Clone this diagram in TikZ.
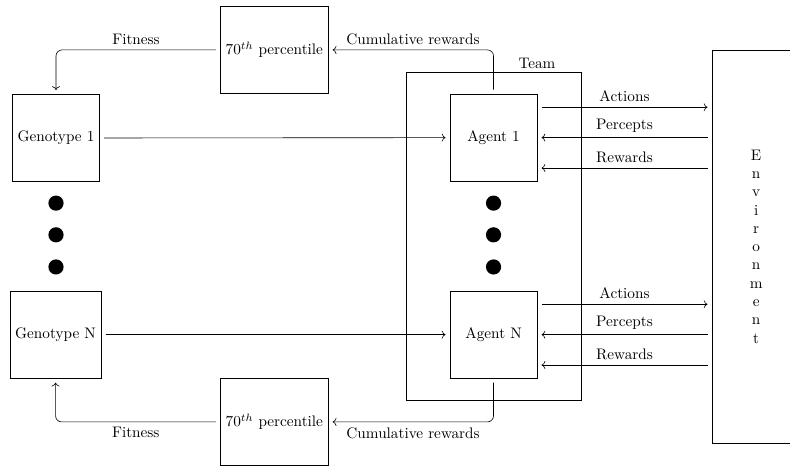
\documentclass[tikz,border=0pt]{standalone}
\usepackage{amsmath}
\usetikzlibrary{arrows.meta, positioning}

\begin{document}
\begin{tikzpicture}[box/.style={draw, minimum width=2cm, minimum height=2cm, outer sep=3pt}, dot/.style={circle, fill, inner sep=0pt, minimum size=0.35cm}, flow/.style={->}, loop/.style={->, rounded corners}]
\useasboundingbox (0,0) rectangle (18.2,-10.8);
\node[box] (geno1) at (1.29,-3.18) {Genotype 1};
\node[box] (genoN) at (1.28,-7.71) {Genotype N};
\node[box] (pct1) at (6.32,-1.15) {\(70^{th}\) percentile};
\node[box] (pctN) at (6.32,-9.72) {\(70^{th}\) percentile};
\node[draw, minimum width=4.03cm, minimum height=7.56cm] (team) at (11.37,-5.44) {};
\node (teamlbl) at (12.37,-1.45) {Team};
\node[box] (agent1) at (11.37,-3.17) {Agent 1};
\node[box] (agentN) at (11.37,-7.71) {Agent N};
\node[draw, minimum width=2.03cm, minimum height=9.05cm, outer sep=3pt, align=center] (env) at (17.42,-5.68) {E\\n\\v\\i\\r\\o\\n\\m\\e\\n\\t};
\foreach \i/\y in {1/-4.68, 2/-5.41, 3/-6.15} {\node[dot] (ldot\i) at (1.29,\y) {}; \node[dot] (tdot\i) at (11.37,\y) {};}
\draw[flow] (geno1) -- (agent1); \draw[flow] (genoN) -- (agentN);
\draw[loop] (agent1.north) |- (pct1.east) node[above, pos=0.75] {Cumulative rewards};
\draw[loop] (pct1.west) -| (geno1.north) node[above, pos=0.25] {Fitness};
\draw[loop] (agentN.south) |- (pctN.east) node[below, pos=0.75] {Cumulative rewards};
\draw[loop] (pctN.west) -| (genoN.south) node[below, pos=0.25] {Fitness};
\foreach \a in {agent1, agentN} {
\draw[flow] ([yshift=0.7cm]\a.east) -- ([yshift=0.7cm]\a.east -| env.west) node[midway, above] {Actions};
\draw[flow] (\a.east -| env.west) -- (\a.east) node[midway, above] {Percepts};
\draw[flow] ([yshift=-0.7cm]\a.east -| env.west) -- ([yshift=-0.7cm]\a.east) node[midway, above] {Rewards};
}
\end{tikzpicture}
\end{document}
